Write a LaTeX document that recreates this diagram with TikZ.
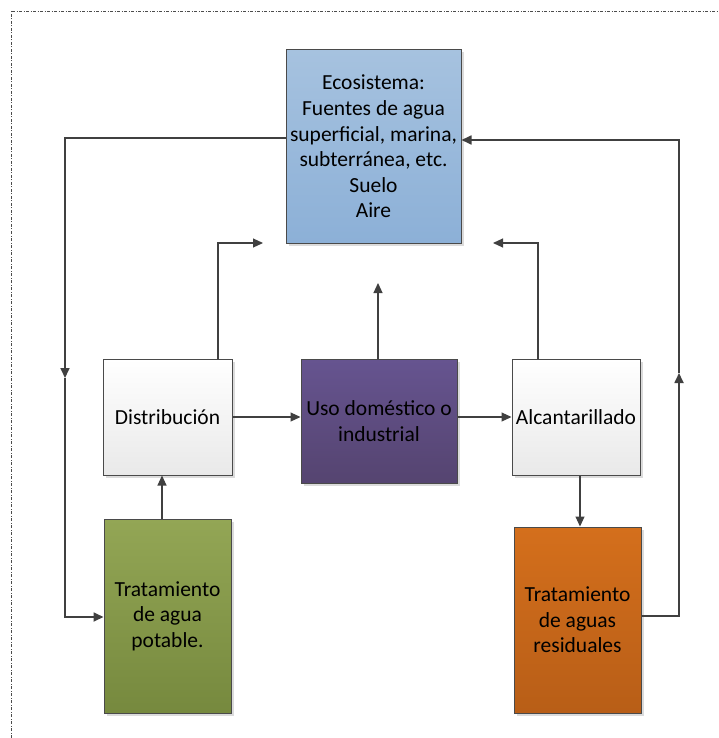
\documentclass[tikz,border=0pt]{standalone}
\usepackage{fontspec}
\setmainfont{Carlito}
\usetikzlibrary{arrows.meta,shadows}

\definecolor{linegray}{HTML}{404040}
\definecolor{boxedge}{HTML}{4A4A4A}
\definecolor{ecotop}{HTML}{A6C2DF}
\definecolor{ecobot}{HTML}{8CB0D7}
\definecolor{usotop}{HTML}{665490}
\definecolor{usobot}{HTML}{554470}
\definecolor{greentop}{HTML}{93A655}
\definecolor{greenbot}{HTML}{76893E}
\definecolor{orangetop}{HTML}{D46F1C}
\definecolor{orangebot}{HTML}{B85E17}
\definecolor{paletop}{HTML}{FFFFFF}
\definecolor{palebot}{HTML}{E9E9E9}

\tikzset{
  box/.style={draw=boxedge, line width=1pt, inner sep=0pt, align=center,
    font=\fontsize{21.5}{25.6}\selectfont,
    drop shadow={shadow xshift=2.5pt, shadow yshift=-2.5pt, fill=black!14, opacity=1}},
  tip/.style={-{Triangle[length=10pt,width=9pt]}},
  flow/.style={draw=linegray, line width=1.1pt, tip},
  loopline/.style={draw=linegray, line width=1.7pt, tip},
  frameline/.style={draw=black!70, line width=0.7pt,
    dash pattern=on 3pt off 1.5pt on 1pt off 1.5pt}
}

\begin{document}
\begin{tikzpicture}[x=1pt,y=-1pt]
\useasboundingbox (0,0) rectangle (719,738);
\fill[white] (0,0) rectangle (719,738);

% page frame (top and left edges)
\draw[frameline] (11,738) -- (11,11) -- (719,11);

% boxes
\node[box, minimum width=175pt, minimum height=193pt, top color=ecotop, bottom color=ecobot]
  (eco) at (373.5,146.5)
  {Ecosistema:\\Fuentes de agua\\superficial, marina,\\subterránea, etc.\\Suelo\\Aire};
\node[box, minimum width=129pt, minimum height=116pt, top color=paletop, bottom color=palebot]
  (dist) at (167.5,417) {Distribución};
\node[box, minimum width=156pt, minimum height=124pt, top color=usotop, bottom color=usobot]
  (uso) at (379,421) {Uso doméstico o\\industrial};
\node[box, minimum width=128pt, minimum height=116pt, top color=paletop, bottom color=palebot]
  (alc) at (576,417) {Alcantarillado};
\node[box, minimum width=127pt, minimum height=194pt, top color=greentop, bottom color=greenbot]
  (green) at (167.5,616) {Tratamiento\\de agua\\potable.};
\node[box, minimum width=127pt, minimum height=186pt, top color=orangetop, bottom color=orangebot]
  (orange) at (577.5,620) {Tratamiento\\de aguas\\residuales};

% routing points
\coordinate (l1) at (65,138);
\coordinate (l2) at (65,378);
\coordinate (l3) at (65,617);
\coordinate (r1) at (679,616);
\coordinate (r2) at (679,373);
\coordinate (r3) at (679,140);
\coordinate (d1) at (218,243);
\coordinate (d2) at (263,243);
\coordinate (u1) at (378,283);
\coordinate (c1) at (538,243);
\coordinate (c2) at (493,243);
\coordinate (g1) at (162,497);
\coordinate (s1) at (580,500);

% outer loops
\draw[loopline] (eco.west |- l1) -- (l1) -- (l2);
\draw[loopline] (l2) -- (l3) -- (green.west |- l3);
\draw[loopline] (orange.east |- r1) -- (r1) -- (r2);
\draw[loopline] (r2) -- (r3) -- (eco.east |- r3);

% returns towards the ecosystem
\draw[flow] (dist.north -| d1) -- (d1) -- (d2);
\draw[flow] (uso.north -| u1) -- (u1);
\draw[flow] (alc.north -| c1) -- (c1) -- (c2);

% main chain
\draw[flow] (green.north -| g1) -- (dist.south -| g1);
\draw[flow] (dist.east) -- (dist.east -| uso.west);
\draw[flow] (uso.east |- alc.west) -- (alc.west);
\draw[flow] (alc.south -| s1) -- (orange.north -| s1);
\end{tikzpicture}
\end{document}
